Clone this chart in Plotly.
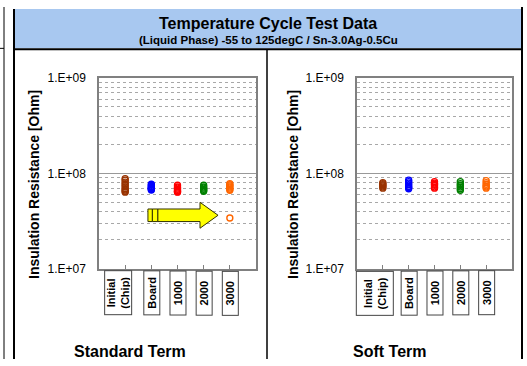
import plotly.graph_objects as go

# ---------------- data ----------------
categories = ["Initial<br>(Chip)", "Board", "1000", "2000", "3000"]
colors = ["#993300", "#0000ff", "#ff0000", "#008000", "#ff6600"]

std_initial = [8.8e7, 8.5e7, 8.1e7, 7.8e7, 7.5e7, 7.2e7, 6.9e7, 6.7e7, 6.5e7, 6.35e7]
std_board = [7.7e7, 7.5e7, 7.3e7, 7.1e7, 7.0e7, 6.9e7, 6.8e7, 6.7e7]
std_1000 = [7.5e7, 7.2e7, 7.0e7, 6.8e7, 6.6e7, 6.5e7, 6.4e7, 6.35e7]
std_2000 = [7.5e7, 7.2e7, 7.0e7, 6.8e7, 6.6e7, 6.5e7]
std_3000 = [7.8e7, 7.6e7, 7.4e7, 7.2e7, 7.0e7, 6.8e7, 6.65e7, 3.4e7]

soft_initial = [8.0e7, 7.8e7, 7.6e7, 7.4e7, 7.2e7, 7.0e7]
soft_board = [8.5e7, 8.2e7, 7.9e7, 7.6e7, 7.3e7, 7.1e7, 6.9e7]
soft_1000 = [8.2e7, 7.9e7, 7.7e7, 7.5e7, 7.2e7, 7.0e7]
soft_2000 = [8.2e7, 7.8e7, 7.5e7, 7.2e7, 6.9e7, 6.65e7]
soft_3000 = [8.4e7, 8.0e7, 7.7e7, 7.4e7, 7.2e7, 7.0e7]

y_tickvals = [1e7, 1e8, 1e9]
y_ticktext = ["1.E+07", "1.E+08", "1.E+09"]

title = "Temperature Cycle Test Data"
subtitle = "(Liquid Phase) -55 to 125degC / Sn-3.0Ag-0.5Cu"
y_title = "Insulation Resistance [Ohm]"
panel_titles = ["Standard Term", "Soft Term"]

std_series = [std_initial, std_board, std_1000, std_2000, std_3000]
soft_series = [soft_initial, soft_board, soft_1000, soft_2000, soft_3000]

# ---------------- layout helpers ----------------
W, H = 527, 366
FONT = "Arial, Liberation Sans, sans-serif"


def px(x):
    return x / W


def py(y):
    return 1 - y / H


fig = go.Figure()

for panel, series in enumerate([std_series, soft_series]):
    xa = "x" if panel == 0 else "x2"
    ya = "y" if panel == 0 else "y2"
    for i, vals in enumerate(series):
        fig.add_trace(go.Scatter(
            x=[i + 1] * len(vals), y=vals, mode="markers",
            xaxis=xa, yaxis=ya, showlegend=False, hoverinfo="skip",
            marker=dict(symbol="circle-open", size=6, color=colors[i],
                        line=dict(width=1.4, color=colors[i])),
        ))

minor_vals = [m * 10 ** e for e in (7, 8) for m in range(2, 10)]

yaxis_common = dict(
    type="log", range=[7, 9], tickvals=y_tickvals, ticktext=y_ticktext,
    showline=True, mirror=True, linecolor="#808080", linewidth=1.5,
    showgrid=True, gridcolor="#999999", gridwidth=1, zeroline=False,
    ticks="", ticklabelstandoff=9,
    tickfont=dict(family=FONT, size=12, color="#000000"),
    minor=dict(tickvals=minor_vals, showgrid=True, gridcolor="#a8a8a8",
               griddash="dot", gridwidth=1, ticks=""),
)
xaxis_common = dict(
    range=[0, 6], tickvals=[1, 2, 3, 4, 5], showticklabels=False,
    ticks="inside", ticklen=4, tickcolor="#808080", tickwidth=1,
    showline=True, mirror=True, linecolor="#808080", linewidth=1.5,
    showgrid=False, zeroline=False,
)

y_dom = [py(272), py(74)]
fig.update_layout(
    width=W, height=H, margin=dict(l=0, r=0, t=0, b=0),
    paper_bgcolor="white", plot_bgcolor="white",
    xaxis=dict(domain=[px(99), px(256)], anchor="y", **xaxis_common),
    yaxis=dict(domain=y_dom, anchor="x", **yaxis_common),
    xaxis2=dict(domain=[px(357), px(512)], anchor="y2", **xaxis_common),
    yaxis2=dict(domain=y_dom, anchor="x2", **yaxis_common),
)

shapes = []
# header band
shapes.append(dict(type="rect", xref="paper", yref="paper", x0=px(14), x1=px(522),
                   y0=py(43), y1=py(2), fillcolor="#a8c8f0", line=dict(width=0), layer="below"))


def pline(x0, y0, x1, y1, w):
    return dict(type="line", xref="paper", yref="paper", x0=px(x0), y0=py(y0),
                x1=px(x1), y1=py(y1), line=dict(color="#000000", width=w))


shapes += [
    pline(14, 44, 522, 44, 2),
    pline(0, 43, 4, 43, 1),
    pline(4, 0, 4, H, 1),
    pline(14, 2, 14, H, 2),
    pline(522, 0, 522, H, 2),
    pline(267, 44, 267, H, 1.5),
]

# yellow block arrow (decoration) in the Standard Term panel
arrow_style = dict(xref="x", yref="y domain", fillcolor="#ffff00",
                   line=dict(color="#333300", width=1))
shapes.append(dict(type="rect", x0=1.87, x1=2.04, y0=0.247, y1=0.313, **arrow_style))
shapes.append(dict(type="rect", x0=2.04, x1=2.25, y0=0.247, y1=0.313, **arrow_style))
shapes.append(dict(type="path",
                   path="M 2.25 0.247 L 3.86 0.247 L 3.86 0.212 L 4.55 0.280 "
                        "L 3.86 0.348 L 3.86 0.313 L 2.25 0.313 Z",
                   **arrow_style))
fig.update_layout(shapes=shapes)

ann = []
ann.append(dict(text=title, xref="paper", yref="paper", x=px(268), y=py(17),
                showarrow=False, xanchor="center", yanchor="middle",
                font=dict(family=FONT, size=16, color="#000000", weight="bold")))
ann.append(dict(text=subtitle, xref="paper", yref="paper", x=px(268), y=py(34),
                showarrow=False, xanchor="center", yanchor="middle",
                font=dict(family=FONT, size=11.5, color="#000000", weight="bold")))

# y-axis titles
for xpos in (34, 293):
    ann.append(dict(text=y_title, xref="paper", yref="paper", x=px(xpos), y=py(185),
                    showarrow=False, xanchor="center", yanchor="middle", textangle=-90,
                    font=dict(family=FONT, size=14, color="#000000", weight="bold")))

# panel titles
for xpos, t in zip((130, 389), panel_titles):
    ann.append(dict(text=t, xref="paper", yref="paper", x=px(xpos), y=py(358),
                    showarrow=False, xanchor="center", yanchor="middle",
                    font=dict(family=FONT, size=16, color="#000000", weight="bold")))

# boxed, rotated category labels
for panel, xref in enumerate(["x", "x2"]):
    for i, cat in enumerate(categories):
        two = "<br>" in cat
        if two:
            h = 24 if panel == 0 else 34
            shift = -7 if panel == 0 else -8
        else:
            h, shift = 13, 0
        ann.append(dict(text=cat, xref=xref, yref="paper", x=i + 1, y=py(274),
                        xshift=shift, showarrow=False, xanchor="center", yanchor="top",
                        textangle=-90, width=41, height=h, borderpad=1,
                        bordercolor="#444444", borderwidth=1, bgcolor="white",
                        font=dict(family=FONT, size=11, color="#000000", weight="bold")))

fig.update_layout(annotations=ann)
fig.write_html("out.html", config={"displayModeBar": False},
               post_script="document.body.style.margin='0';document.body.style.overflow='hidden';")
